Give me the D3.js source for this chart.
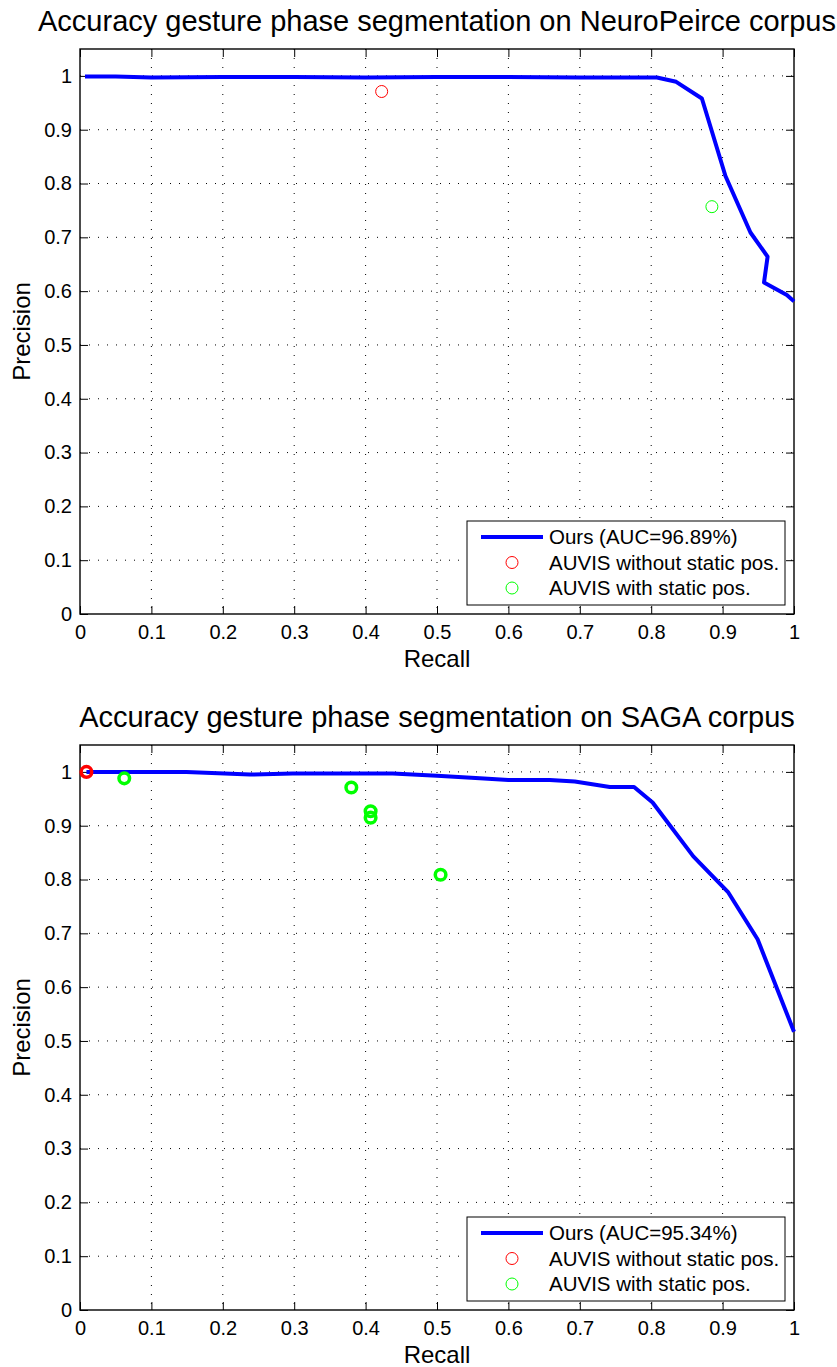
<!DOCTYPE html>
<html>
<head>
<meta charset="utf-8">
<script src="https://cdn.jsdelivr.net/npm/d3@7"></script>
<style>
    body { margin: 0; background: #fff; }
    svg text { font-family: "Liberation Sans", Arial, Helvetica, sans-serif; fill: #000; }
</style>
</head>
<body>
<div id="chart"></div>
<script>
// ---- data ----
const tickValues = [0, 0.1, 0.2, 0.3, 0.4, 0.5, 0.6, 0.7, 0.8, 0.9, 1];
const tickLabels = ["0", "0.1", "0.2", "0.3", "0.4", "0.5", "0.6", "0.7", "0.8", "0.9", "1"];

// NeuroPeirce corpus
const recallNP    = [0.007, 0.05, 0.1, 0.2, 0.3, 0.4, 0.5, 0.6, 0.7, 0.808, 0.835, 0.871, 0.904, 0.939, 0.963, 0.958, 0.990, 1.0];
const precisionNP = [0.999, 0.999, 0.997, 0.998, 0.998, 0.997, 0.998, 0.998, 0.997, 0.997, 0.989, 0.958, 0.814, 0.709, 0.664, 0.616, 0.593, 0.581];
const redRecallNP = [0.4225];
const redPrecNP   = [0.971];
const greenRecallNP = [0.885];
const greenPrecNP   = [0.757];

// SAGA corpus
const recallSG    = [0.009, 0.149, 0.238, 0.298, 0.438, 0.5, 0.56, 0.6, 0.658, 0.693, 0.742, 0.776, 0.802, 0.859, 0.908, 0.949, 1.0];
const precisionSG = [1.0, 1.0, 0.995, 0.997, 0.997, 0.993, 0.988, 0.985, 0.985, 0.982, 0.972, 0.972, 0.943, 0.843, 0.776, 0.689, 0.517];
const redRecallSG = [0.009];
const redPrecSG   = [1.0];
const greenRecallSG = [0.062, 0.380, 0.407, 0.407, 0.505];
const greenPrecSG   = [0.988, 0.971, 0.927, 0.915, 0.809];

const titles = ["Accuracy gesture phase segmentation on NeuroPeirce corpus",
                "Accuracy gesture phase segmentation on SAGA corpus"];
const legendNP = ["Ours (AUC=96.89%)", "AUVIS without static pos.", "AUVIS with static pos."];
const legendSG = ["Ours (AUC=95.34%)", "AUVIS without static pos.", "AUVIS with static pos."];

const svg = d3.select("#chart").append("svg")
    .attr("width", 837)
    .attr("height", 1367);

class PRChart {
    constructor(top, title, recall, precision, red, green, legend, markerWidth) {
        this.top = top;
        this.title = title;
        this.recall = recall;
        this.precision = precision;
        this.red = red;
        this.green = green;
        this.legend = legend;
        this.markerWidth = markerWidth;
    }

    initViz() {
        let vis = this;
        vis.left = 80;
        vis.width = 714;
        vis.height = 565;

        vis.g = svg.append("g")
            .attr("transform", "translate(" + vis.left + "," + vis.top + ")");

        vis.x = d3.scaleLinear().domain([0, 1]).range([0, vis.width]);
        vis.y = d3.scaleLinear().domain([0, 1.05]).range([vis.height, 0]);

        // dotted grid
        vis.g.append("g").selectAll("line")
            .data(tickValues.slice(1, -1))
            .enter().append("line")
            .attr("x1", d => vis.x(d)).attr("x2", d => vis.x(d))
            .attr("y1", 0).attr("y2", vis.height)
            .attr("stroke", "#000").attr("stroke-width", 1)
            .attr("stroke-dasharray", "1,8");
        vis.g.append("g").selectAll("line")
            .data(tickValues.slice(1))
            .enter().append("line")
            .attr("y1", d => vis.y(d)).attr("y2", d => vis.y(d))
            .attr("x1", 0).attr("x2", vis.width)
            .attr("stroke", "#000").attr("stroke-width", 1)
            .attr("stroke-dasharray", "1,8");

        // axes, ticks pointing inward on all four sides
        let fmt = (d, i) => tickLabels[i];
        vis.g.append("g").attr("class", "axis")
            .attr("transform", "translate(0," + vis.height + ")")
            .call(d3.axisBottom(vis.x).tickValues(tickValues).tickFormat(fmt).tickSizeInner(-8).tickSizeOuter(0).tickPadding(11));
        vis.g.append("g").attr("class", "axis")
            .call(d3.axisTop(vis.x).tickValues(tickValues).tickFormat("").tickSizeInner(-8).tickSizeOuter(0));
        vis.g.append("g").attr("class", "axis")
            .call(d3.axisLeft(vis.y).tickValues(tickValues).tickFormat(fmt).tickSizeInner(-8).tickSizeOuter(0).tickPadding(8));
        vis.g.append("g").attr("class", "axis")
            .attr("transform", "translate(" + vis.width + ",0)")
            .call(d3.axisRight(vis.y).tickValues(tickValues).tickFormat("").tickSizeInner(-8).tickSizeOuter(0));

        vis.g.selectAll(".axis text").style("font-size", "20px");
        vis.g.selectAll(".axis .domain").remove();
        vis.g.selectAll(".axis line").attr("stroke", "#000").attr("stroke-width", 1);

        vis.g.append("rect")
            .attr("width", vis.width).attr("height", vis.height)
            .attr("fill", "none").attr("stroke", "#000").attr("stroke-width", 1.4);

        // labels
        vis.g.append("text")
            .attr("x", vis.width / 2).attr("y", -18)
            .attr("text-anchor", "middle")
            .style("font-size", "29px")
            .text(vis.title);
        vis.g.append("text")
            .attr("x", vis.width / 2).attr("y", vis.height + 53)
            .attr("text-anchor", "middle")
            .style("font-size", "24px")
            .text("Recall");
        vis.g.append("text")
            .attr("transform", "translate(-50," + (vis.height / 2) + ") rotate(-90)")
            .attr("text-anchor", "middle")
            .style("font-size", "24px")
            .text("Precision");

        vis.updateViz();
    }

    updateViz() {
        let vis = this;

        let pts = vis.recall.map((r, i) => [vis.x(r), vis.y(vis.precision[i])]);
        vis.g.append("path")
            .attr("d", d3.line()(pts))
            .attr("fill", "none")
            .attr("stroke", "#0000ff")
            .attr("stroke-width", 4)
            .attr("stroke-linejoin", "round");

        let markers = [
            {r: vis.red[0], p: vis.red[1], color: "#ff0000"},
            {r: vis.green[0], p: vis.green[1], color: "#00ff00"}
        ];
        markers.forEach(function (m) {
            vis.g.append("g").selectAll("circle")
                .data(m.r.map((r, i) => [r, m.p[i]]))
                .enter().append("circle")
                .attr("cx", d => vis.x(d[0]))
                .attr("cy", d => vis.y(d[1]))
                .attr("r", vis.markerWidth > 1 ? 5.3 : 6)
                .attr("fill", "none")
                .attr("stroke", m.color)
                .attr("stroke-width", vis.markerWidth);
        });

        // legend box
        let lg = vis.g.append("g")
            .attr("transform", "translate(" + (467 - vis.left) + "," + (vis.height - 93) + ")");
        lg.append("rect")
            .attr("width", 318).attr("height", 84)
            .attr("fill", "#fff").attr("stroke", "#000").attr("stroke-width", 1);

        let rows = lg.selectAll(".row")
            .data(vis.legend)
            .enter().append("g")
            .attr("class", "row")
            .attr("transform", (d, i) => "translate(0," + (16 + i * 25.5) + ")");
        rows.append("text")
            .attr("x", 82).attr("y", 7)
            .style("font-size", "20.5px")
            .text(d => d);

        lg.append("line")
            .attr("x1", 14).attr("x2", 76).attr("y1", 16).attr("y2", 16)
            .attr("stroke", "#0000ff").attr("stroke-width", 4);
        lg.selectAll(".lgc")
            .data(["#ff0000", "#00ff00"])
            .enter().append("circle")
            .attr("cx", 45)
            .attr("cy", (d, i) => 16 + (i + 1) * 25.5)
            .attr("r", 6)
            .attr("fill", "none")
            .attr("stroke", d => d)
            .attr("stroke-width", 1);
    }
}

let chartNP = new PRChart(49, titles[0], recallNP, precisionNP,
    [redRecallNP, redPrecNP], [greenRecallNP, greenPrecNP], legendNP, 1);
chartNP.initViz();

let chartSG = new PRChart(745, titles[1], recallSG, precisionSG,
    [redRecallSG, redPrecSG], [greenRecallSG, greenPrecSG], legendSG, 3.5);
chartSG.initViz();
</script>
</body>
</html>
